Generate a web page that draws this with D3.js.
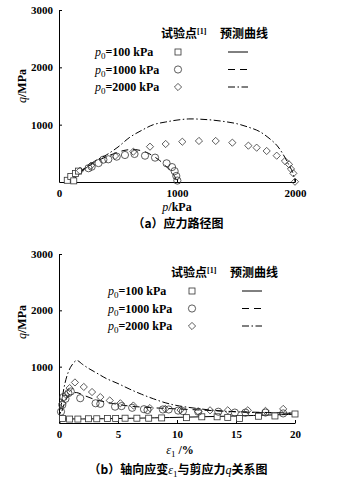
<!DOCTYPE html>
<html><head><meta charset="utf-8">
<script src="https://cdn.jsdelivr.net/npm/d3@7"></script>
<style>
html,body{margin:0;padding:0;background:#fff;}
svg{display:block;}
</style></head>
<body>
<svg id="chart" width="337" height="480"></svg>
<script>
// ---------- Panel (a): stress path p-q ----------
const aXTicks = [0, 1000, 2000];
const aYTicks = [1000, 2000, 3000];
// test points
const aSq_p = [70, 100, 125, 140, 165];
const aSq_q = [30, 95, 20, 150, 190];
const aCi_p = [250, 277, 335, 376, 418, 489, 559, 640, 729, 814, 912, 958, 980, 994, 1003];
const aCi_q = [240, 267, 330, 390, 396, 442, 471, 489, 459, 425, 326, 260, 190, 105, 25];
const aDi_p = [178, 271, 475, 630, 771, 904, 1045, 1186, 1328, 1469, 1605, 1675, 1760, 1845, 1915, 1949, 1966, 1986, 2000];
const aDi_q = [197, 285, 454, 529, 616, 663, 703, 716, 716, 686, 634, 599, 541, 459, 366, 308, 227, 151, 5];
// predicted curves
const aL1_p = [80, 120, 160, 200, 240];
const aL1_q = [0, 80, 160, 220, 255];
const aL2_p = [100, 200, 300, 400, 500, 550, 600, 650, 700, 750, 800, 850, 900, 950, 980, 1000];
const aL2_q = [0, 200, 340, 440, 520, 550, 565, 565, 545, 510, 450, 380, 290, 180, 100, 0];
const aL3_p = [100, 150, 200, 300, 400, 500, 600, 700, 800, 900, 1000, 1100, 1200, 1300, 1400, 1500, 1600, 1700, 1800, 1850, 1900, 1950, 1980, 2000];
const aL3_q = [0, 100, 200, 360, 470, 610, 780, 900, 1000, 1045, 1080, 1100, 1095, 1080, 1055, 1020, 960, 880, 730, 630, 480, 290, 170, 0];

// ---------- Panel (b): axial strain - q ----------
const bXTicks = [0, 5, 10, 15, 20];
const bYTicks = [1000, 2000, 3000];
const bSq_e = [0.3, 0.9, 1.6, 2.5, 3.2, 4.1, 4.8, 5.6, 6.6, 7.6, 8.7, 10.8, 12.1, 13.4, 14.3, 15.3, 16.9, 18.3, 20];
const bSq_q = [80, 70, 70, 75, 75, 80, 80, 85, 85, 85, 90, 95, 110, 110, 100, 80, 120, 125, 160];
const bCi_e = [0.17, 0.28, 0.37, 0.55, 0.8, 1.0, 1.8, 3.1, 3.5, 4.75, 5.3, 6.2, 7.2, 7.5, 8.8, 9.3, 10.1, 10.5, 11.8, 13.5, 14.9, 15.8, 17.5, 19];
const bCi_q = [200, 320, 460, 430, 530, 560, 440, 350, 340, 290, 300, 270, 245, 230, 240, 240, 220, 210, 200, 200, 185, 185, 185, 170];
const bDi_e = [0.3, 0.6, 0.9, 1.35, 2.1, 2.8, 3.5, 4.3, 5.2, 6.3, 7.7, 9.0, 10.3, 11.8, 12.8, 14.3, 16.0, 17.5, 19.0];
const bDi_q = [350, 500, 620, 720, 640, 550, 460, 400, 350, 310, 265, 250, 230, 205, 225, 225, 225, 215, 250];
const bL1_e = [0.05, 0.2, 0.5, 2, 5, 10, 15, 20];
const bL1_q = [0, 60, 70, 72, 80, 100, 125, 155];
const bL2_e = [0.05, 0.3, 0.6, 1.0, 1.5, 2, 3, 4, 5, 6, 8, 10, 12, 14, 16, 18, 20];
const bL2_q = [0, 250, 420, 520, 540, 500, 420, 370, 330, 300, 270, 250, 230, 210, 195, 185, 175];
const bL3_e = [0.05, 0.2, 0.5, 0.8, 1.1, 1.5, 2.0, 2.5, 3.0, 3.5, 4, 5, 6, 7, 8, 9, 10, 12, 14, 16, 18, 20];
const bL3_q = [0, 330, 700, 910, 1030, 1110, 1040, 970, 910, 850, 790, 700, 600, 510, 430, 360, 310, 250, 210, 190, 180, 170];

const legendLabels = ["100 kPa", "1000 kPa", "2000 kPa"];
const legendHead = ["试验点", "预测曲线"];

const svg = d3.select("#chart");
const serif = "'Liberation Serif','DejaVu Serif',serif";
const cjk = "'Noto Sans CJK SC','Noto Sans CJK JP',sans-serif";
const dashes = [null, "7,5", "7,2.5,1.5,2.5"];

function zip(a, b) { return a.map((v, i) => [v, b[i]]); }

function drawMarker(g, type, cx, cy) {
  if (type === 0) {
    g.append("rect").attr("x", cx - 3).attr("y", cy - 3).attr("width", 6).attr("height", 6)
      .attr("fill", "#fff").attr("stroke", "#333").attr("stroke-width", 0.8);
  } else if (type === 1) {
    g.append("circle").attr("cx", cx).attr("cy", cy).attr("r", 3.6)
      .attr("fill", "none").attr("stroke", "#333").attr("stroke-width", 0.8);
  } else {
    g.append("path").attr("d", `M${cx},${cy - 3.6}L${cx + 3.6},${cy}L${cx},${cy + 3.6}L${cx - 3.6},${cy}Z`)
      .attr("fill", "none").attr("stroke", "#333").attr("stroke-width", 0.8);
  }
}

function panel(opt) {
  const g = svg.append("g");
  const x = d3.scaleLinear().domain(opt.xDomain).range([59, 295]);
  const y = d3.scaleLinear().domain([0, 3000]).range([opt.y0, opt.y3]);
  // axes
  const ya = g.append("g").attr("transform", "translate(59,0)")
    .call(d3.axisLeft(y).tickValues(opt.yTicks).tickSize(-3).tickSizeOuter(0).tickPadding(6).tickFormat(d3.format("d")));
  const xa = g.append("g").attr("transform", `translate(0,${opt.y0})`)
    .call(d3.axisBottom(x).tickValues(opt.xTicks).tickSize(-3).tickSizeOuter(0).tickPadding(6).tickFormat(d3.format("d")));
  [ya, xa].forEach(a => {
    a.selectAll("path,line").attr("stroke", "#000").attr("stroke-width", 1);
    a.selectAll("text").attr("font-family", serif).attr("font-weight", "bold").attr("font-size", 11).attr("fill", "#000");
  });
  xa.selectAll("text").attr("dy", "0.85em");
  // curves
  const line = d3.line().x(d => x(d[0])).y(d => y(d[1])).curve(d3.curveMonotoneX);
  const lineC = d3.line().x(d => x(d[0])).y(d => y(d[1])).curve(d3.curveCatmullRom);
  opt.lines.forEach((L, i) => {
    g.append("path").datum(zip(L[0], L[1])).attr("d", lineC)
      .attr("fill", "none").attr("stroke", "#000").attr("stroke-width", 1)
      .attr("stroke-dasharray", dashes[i]);
  });
  // points
  opt.points.forEach((P, i) => {
    zip(P[0], P[1]).forEach(d => drawMarker(g, i, x(d[0]), y(d[1])));
  });
  // y label
  const yl = g.append("text").attr("transform", `translate(26,${opt.yLabelY}) rotate(-90)`)
    .attr("text-anchor", "middle").attr("font-family", serif).attr("font-weight", "bold").attr("font-size", 12);
  yl.append("tspan").attr("font-style", "italic").attr("font-weight", "normal").text("q");
  yl.append("tspan").text("/MPa");
  // legend
  const lg = g.append("g");
  lg.append("text").attr("x", opt.lgHeadX1).attr("y", opt.lgY - 14).attr("font-family", cjk).attr("font-size", 12).attr("font-weight", "bold")
    .text(legendHead[0]).append("tspan").attr("font-family", serif).attr("font-weight", "bold").attr("font-size", 8).attr("dy", -4).text("[1]");
  lg.append("text").attr("x", opt.lgHeadX2).attr("y", opt.lgY - 14).attr("font-family", cjk).attr("font-size", 12).attr("font-weight", "bold")
    .text(legendHead[1]);
  legendLabels.forEach((lab, i) => {
    const yy = opt.lgY + i * 17.5;
    const t = lg.append("text").attr("x", opt.lgTextX).attr("y", yy + 4).attr("font-family", serif).attr("font-size", 12).attr("font-weight", "bold");
    t.append("tspan").attr("font-style", "italic").attr("font-weight", "normal").text("p");
    t.append("tspan").attr("font-size", 9).attr("dy", 3).attr("font-weight", "normal").text("0");
    t.append("tspan").attr("dy", -3).text("=" + lab);
    drawMarker(lg, i, opt.lgMarkX, yy);
    lg.append("line").attr("x1", opt.lgLineX).attr("x2", opt.lgLineX + 20).attr("y1", yy).attr("y2", yy)
      .attr("stroke", "#000").attr("stroke-width", 1).attr("stroke-dasharray", dashes[i]);
  });
  return g;
}

panel({
  xDomain: [0, 2000], xTicks: aXTicks, yTicks: aYTicks, y0: 182, y3: 10,
  lines: [[aL1_p, aL1_q], [aL2_p, aL2_q], [aL3_p, aL3_q]],
  points: [[aSq_p, aSq_q], [aCi_p, aCi_q], [aDi_p, aDi_q]],
  yLabelY: 86, lgY: 52, lgTextX: 95, lgMarkX: 178, lgLineX: 228, lgHeadX1: 161, lgHeadX2: 220
});
panel({
  xDomain: [0, 20], xTicks: bXTicks, yTicks: bYTicks, y0: 423, y3: 254,
  lines: [[bL1_e, bL1_q], [bL2_e, bL2_q], [bL3_e, bL3_q]],
  points: [[bSq_e, bSq_q], [bCi_e, bCi_q], [bDi_e, bDi_q]],
  yLabelY: 322, lgY: 291, lgTextX: 108, lgMarkX: 192, lgLineX: 242, lgHeadX1: 171, lgHeadX2: 230
});

// x labels and captions
const xl1 = svg.append("text").attr("x", 177).attr("y", 211).attr("text-anchor", "middle")
  .attr("font-family", serif).attr("font-weight", "bold").attr("font-size", 12);
xl1.append("tspan").attr("font-style", "italic").attr("font-weight", "normal").text("p");
xl1.append("tspan").text("/kPa");
svg.append("text").attr("x", 178).attr("y", 228).attr("text-anchor", "middle")
  .attr("font-family", cjk).attr("font-size", 12).attr("font-weight", "bold").text("（a）应力路径图");

const xl2 = svg.append("text").attr("x", 180).attr("y", 454).attr("text-anchor", "middle")
  .attr("font-family", serif).attr("font-weight", "bold").attr("font-size", 12);
xl2.append("tspan").attr("font-style", "italic").attr("font-weight", "normal").text("ε");
xl2.append("tspan").attr("font-size", 9).attr("dy", 3).attr("font-weight", "normal").text("1");
xl2.append("tspan").attr("dy", -3).text(" /%");
const cap2 = svg.append("text").attr("x", 178).attr("y", 474).attr("text-anchor", "middle")
  .attr("font-family", cjk).attr("font-size", 12).attr("font-weight", "bold");
cap2.append("tspan").text("（b）轴向应变");
cap2.append("tspan").attr("font-family", serif).attr("font-style", "italic").attr("font-weight", "normal").text("ε");
cap2.append("tspan").attr("font-family", serif).attr("font-size", 9).attr("dy", 3).attr("font-weight", "normal").text("1");
cap2.append("tspan").attr("dy", -3).text("与剪应力");
cap2.append("tspan").attr("font-family", serif).attr("font-style", "italic").attr("font-weight", "normal").text("q");
cap2.append("tspan").text("关系图");
</script>
</body></html>
